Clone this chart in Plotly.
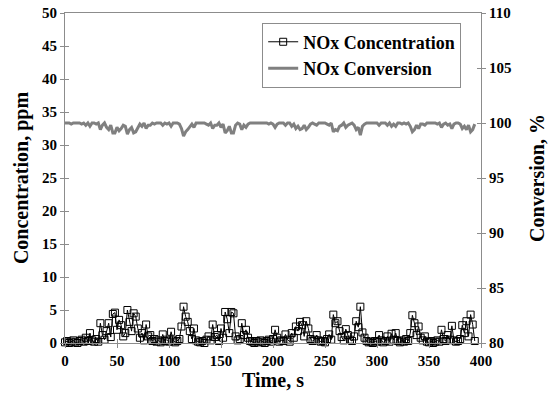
import plotly.graph_objects as go

# ---- data ----
time_s = [
    0, 2, 4, 6, 8, 10, 12, 14, 16, 18, 20, 22, 24, 26, 28,
    30, 32, 34, 36, 38, 40, 42, 44, 46, 48, 50, 52, 54, 56, 58,
    60, 62, 64, 66, 68, 70, 72, 74, 76, 78, 80, 82, 84, 86, 88,
    90, 92, 94, 96, 98, 100, 102, 104, 106, 108, 110, 112, 114, 116, 118,
    120, 122, 124, 126, 128, 130, 132, 134, 136, 138, 140, 142, 144, 146, 148,
    150, 152, 154, 156, 158, 160, 162, 164, 166, 168, 170, 172, 174, 176, 178,
    180, 182, 184, 186, 188, 190, 192, 194, 196, 198, 200, 202, 204, 206, 208,
    210, 212, 214, 216, 218, 220, 222, 224, 226, 228, 230, 232, 234, 236, 238,
    240, 242, 244, 246, 248, 250, 252, 254, 256, 258, 260, 262, 264, 266, 268,
    270, 272, 274, 276, 278, 280, 282, 284, 286, 288, 290, 292, 294, 296, 298,
    300, 302, 304, 306, 308, 310, 312, 314, 316, 318, 320, 322, 324, 326, 328,
    330, 332, 334, 336, 338, 340, 342, 344, 346, 348, 350, 352, 354, 356, 358,
    360, 362, 364, 366, 368, 370, 372, 374, 376, 378, 380, 382, 384, 386, 388,
    390, 392, 394,
]

nox_concentration_ppm = [
    0.1, 0.3, 0.0, 0.2, 0.4, 0.1, 0.0, 0.3, 0.5, 0.2, 0.8, 0.3, 1.5, 0.4, 0.2,
    0.6, 0.2, 3.0, 1.2, 0.5, 1.8, 3.0, 0.9, 4.4, 4.6, 2.0, 3.5, 2.7, 1.0, 1.5,
    5.0, 3.2, 1.8, 4.5, 4.0, 2.2, 0.8, 1.5, 0.4, 2.8, 1.0, 1.2, 0.3, 0.6, 0.2,
    0.4, 0.1, 1.3, 0.3, 0.5, 0.2, 1.7, 0.4, 0.1, 0.3, 0.6, 2.5, 5.5, 4.0, 3.2,
    1.8, 0.6, 2.2, 0.4, 0.2, 0.1, 0.3, 0.0, 0.5, 1.0, 0.4, 2.8, 0.9, 1.2, 0.3,
    2.2, 0.8, 4.7, 3.6, 1.5, 4.7, 4.5, 1.0, 0.4, 0.6, 3.0, 1.2, 2.0, 0.8, 0.3,
    0.2, 0.0, 0.3, 0.1, 0.4, 0.2, 0.0, 0.3, 0.5, 0.2, 0.6, 2.0, 0.8, 0.2, 0.4,
    0.3, 1.3, 0.5, 0.2, 1.5, 0.8, 2.5, 1.8, 3.2, 2.7, 1.0, 3.3, 2.2, 0.6, 0.3,
    0.5, 1.2, 0.4, 0.2, 0.3, 0.1, 0.6, 1.3, 0.5, 4.3, 3.0, 3.3, 1.8, 0.9, 0.4,
    2.1, 1.2, 0.5, 0.3, 1.0, 3.3, 2.4, 5.5, 1.6, 0.8, 0.3, 0.1, 0.2, 0.0, 0.3,
    0.2, 1.2, 0.4, 0.1, 0.3, 1.0, 0.2, 1.4, 0.5, 1.5, 0.3, 0.1, 0.4, 0.2, 0.6,
    0.3, 1.5, 4.2, 3.0, 1.2, 2.5, 0.8, 0.4, 1.0, 0.2, 0.1, 0.3, 0.0, 0.2, 0.4,
    0.2, 2.0, 0.6, 0.3, 1.2, 0.5, 2.6, 0.4, 0.2, 0.3, 0.6, 2.7, 1.5, 3.3, 1.0,
    4.3, 2.8, 0.3,
]

nox_conversion_pct = [
    100.0, 100.0, 100.0, 99.9, 100.0, 100.0, 100.0, 100.0, 99.9, 100.0, 99.8, 100.0, 99.7, 100.0, 100.0,
    99.9, 100.0, 99.4, 99.8, 100.0, 99.6, 99.4, 99.8, 99.1, 99.1, 99.6, 99.3, 99.5, 99.8, 99.7,
    99.0, 99.4, 99.6, 99.1, 99.2, 99.6, 99.9, 99.7, 100.0, 99.5, 99.8, 99.8, 100.0, 99.9, 100.0,
    100.0, 100.0, 99.8, 100.0, 99.9, 100.0, 99.7, 100.0, 100.0, 100.0, 99.9, 99.5, 98.8, 99.2, 99.4,
    99.7, 99.9, 99.6, 100.0, 100.0, 100.0, 100.0, 100.0, 99.9, 99.8, 100.0, 99.5, 99.8, 99.8, 100.0,
    99.6, 99.9, 99.1, 99.3, 99.7, 99.1, 99.1, 99.8, 100.0, 99.9, 99.4, 99.8, 99.6, 99.9, 100.0,
    100.0, 100.0, 100.0, 100.0, 100.0, 100.0, 100.0, 100.0, 99.9, 100.0, 99.9, 99.6, 99.9, 100.0, 100.0,
    100.0, 99.8, 100.0, 100.0, 99.7, 99.9, 99.5, 99.7, 99.4, 99.5, 99.8, 99.4, 99.6, 99.9, 100.0,
    99.9, 99.8, 100.0, 100.0, 100.0, 100.0, 99.9, 99.8, 100.0, 99.2, 99.4, 99.3, 99.7, 99.8, 100.0,
    99.6, 99.8, 99.9, 100.0, 99.8, 99.4, 99.6, 98.9, 99.7, 99.9, 100.0, 100.0, 100.0, 100.0, 100.0,
    100.0, 99.8, 100.0, 100.0, 100.0, 99.8, 100.0, 99.7, 99.9, 99.7, 100.0, 100.0, 99.9, 100.0, 99.9,
    100.0, 99.7, 99.2, 99.4, 99.8, 99.5, 99.9, 99.9, 99.8, 100.0, 100.0, 100.0, 100.0, 100.0, 99.9,
    100.0, 99.6, 99.9, 100.0, 99.8, 99.9, 99.5, 99.9, 100.0, 100.0, 99.9, 99.5, 99.7, 99.4, 99.8,
    99.2, 99.4, 99.9,
]

x_ticks = [0, 50, 100, 150, 200, 250, 300, 350, 400]
y_ticks = [0, 5, 10, 15, 20, 25, 30, 35, 40, 45, 50]
y2_ticks = [80, 85, 90, 95, 100, 105, 110]

FONT = "Liberation Serif, Times New Roman, serif"
AXIS_COLOR = "#8c8c8c"


def bold(vals):
    return ["<b>%s</b>" % v for v in vals]


fig = go.Figure()

fig.add_trace(go.Scatter(
    x=time_s, y=nox_concentration_ppm, name="<b>NOx Concentration</b>",
    mode="lines+markers",
    line=dict(color="black", width=1),
    marker=dict(symbol="square-open", size=7, color="black", line=dict(width=1)),
    cliponaxis=False,
))

fig.add_trace(go.Scatter(
    x=time_s, y=nox_conversion_pct, name="<b>NOx Conversion</b>",
    mode="lines", yaxis="y2",
    line=dict(color="#808080", width=3),
))

# empty helper traces so the inward half of the crossing tick marks is drawn
fig.add_trace(go.Scatter(x=[], y=[], xaxis="x2", yaxis="y3",
                         showlegend=False, hoverinfo="skip"))
fig.add_trace(go.Scatter(x=[], y=[], xaxis="x2", yaxis="y4",
                         showlegend=False, hoverinfo="skip"))

tickfont = dict(family=FONT, size=15, color="black")
titlefont = dict(family=FONT, size=20, color="black")

common = dict(showgrid=False, zeroline=False, automargin=False)

fig.update_layout(
    template="none",
    width=549, height=405,
    margin=dict(l=65, r=68, t=13, b=62),
    paper_bgcolor="white", plot_bgcolor="white",
    font=dict(family=FONT, color="black"),
    showlegend=True,
    legend=dict(
        x=0.474, y=0.971, xanchor="left", yanchor="top",
        bgcolor="white", bordercolor=AXIS_COLOR, borderwidth=1,
        font=dict(family=FONT, size=18, color="black"),
        tracegroupgap=0,
    ),
    xaxis=dict(
        range=[0, 400], tickvals=x_ticks, ticktext=bold(x_ticks),
        showline=True, linecolor=AXIS_COLOR, linewidth=1, mirror=True,
        ticks="outside", ticklen=4, tickcolor=AXIS_COLOR,
        tickfont=tickfont,
        title=dict(text="<b>Time, s</b>", font=titlefont, standoff=4),
        **common,
    ),
    xaxis2=dict(
        range=[0, 400], tickvals=x_ticks, overlaying="x", anchor="y",
        side="bottom", showline=False, showticklabels=False,
        ticks="inside", ticklen=4, tickcolor=AXIS_COLOR,
        **common,
    ),
    yaxis=dict(
        range=[0, 50], tickvals=y_ticks, ticktext=bold(y_ticks),
        showline=True, linecolor=AXIS_COLOR, linewidth=1,
        ticks="outside", ticklen=4, tickcolor=AXIS_COLOR,
        tickfont=tickfont,
        title=dict(text="<b>Concentration, ppm</b>", font=titlefont, standoff=8),
        **common,
    ),
    yaxis2=dict(
        range=[80, 110], tickvals=y2_ticks, ticktext=bold(y2_ticks),
        overlaying="y", side="right", anchor="x",
        showline=True, linecolor=AXIS_COLOR, linewidth=1,
        ticks="outside", ticklen=4, tickcolor=AXIS_COLOR,
        tickfont=tickfont,
        title=dict(text="<b>Conversion, %</b>", font=titlefont, standoff=19),
        **common,
    ),
    yaxis3=dict(
        range=[0, 50], tickvals=y_ticks, overlaying="y", side="left", anchor="x2",
        showline=False, showticklabels=False,
        ticks="inside", ticklen=4, tickcolor=AXIS_COLOR,
        **common,
    ),
    yaxis4=dict(
        range=[80, 110], tickvals=y2_ticks, overlaying="y", side="right", anchor="x2",
        showline=False, showticklabels=False,
        ticks="inside", ticklen=4, tickcolor=AXIS_COLOR,
        **common,
    ),
)

fig.write_html("out.html")
